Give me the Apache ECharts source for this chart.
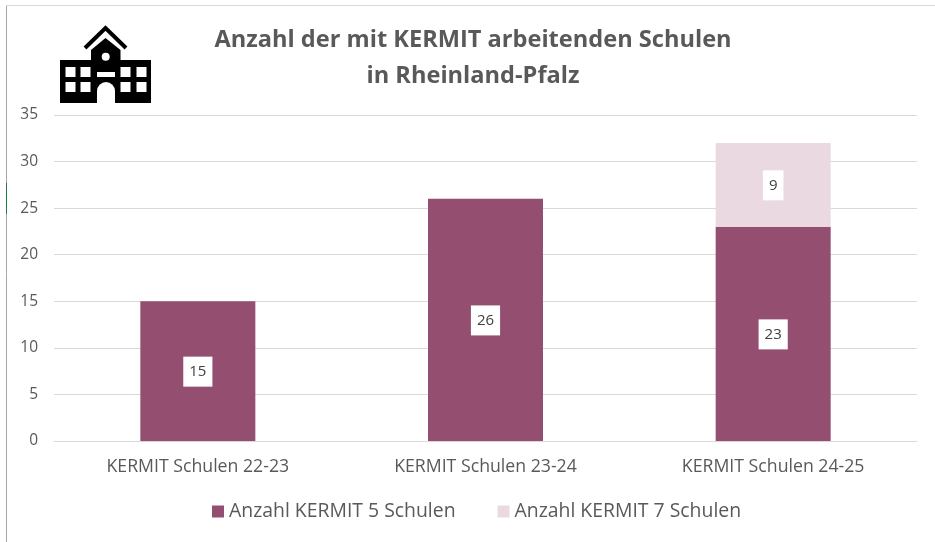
<!DOCTYPE html>
<html><head><meta charset="utf-8">
<style>html,body{margin:0;padding:0;background:#fff}#c{width:935px;height:542px}</style>
<script src="https://cdn.jsdelivr.net/npm/echarts@6/dist/echarts.min.js"></script>
</head><body><div id="c"></div>
<script>
const categories = ['KERMIT Schulen 22-23','KERMIT Schulen 23-24','KERMIT Schulen 24-25'];
const kermit5 = [15,26,23];
const kermit7 = [null,null,9];
const FONT = '"Open Sans", sans-serif';
const black = {fill:'#000'}, white = {fill:'#fff'};
const rect = (x,y,w,h,style) => ({type:'rect',shape:{x,y,width:w,height:h},style,silent:true});
const windows = [[65.5,67],[80.5,67],[120.5,67],[136.5,67],[65.5,82],[80.5,82],[120.5,82],[136.5,82]];
const label = {show:true,position:'inside',backgroundColor:'#fff',color:'#404040',fontFamily:FONT,fontSize:15,padding:[8,6,7,6],offset:[0,0.5]};
const chart = echarts.init(document.getElementById('c'),null,{renderer:'canvas'});
chart.setOption({
  animation:false,
  backgroundColor:'#fff',
  title:{text:'Anzahl der mit KERMIT arbeitenden Schulen\nin Rheinland-Pfalz',left:468,top:17,textAlign:'center',
    textStyle:{fontFamily:FONT,fontSize:23.6,fontWeight:'bold',color:'#595959',lineHeight:36}},
  legend:{bottom:16,left:207,itemWidth:12,itemHeight:12,itemGap:42,icon:'rect',
    textStyle:{fontFamily:FONT,fontSize:19.4,color:'#595959',padding:[0,0,0,0]}},
  grid:{left:54,right:18,top:115,bottom:101},
  xAxis:{type:'category',data:categories,axisLine:{lineStyle:{color:'#d9d9d9'}},axisTick:{show:false},
    axisLabel:{fontFamily:FONT,fontSize:17.7,color:'#595959',margin:17}},
  yAxis:{type:'value',min:0,max:35,interval:5,axisLine:{show:false},axisTick:{show:false},
    splitLine:{lineStyle:{color:'#d9d9d9'}},axisLabel:{fontFamily:FONT,fontSize:15.5,color:'#595959',margin:16,padding:[4,0,0,0]}},
  series:[
    {name:'Anzahl KERMIT 5 Schulen',type:'bar',stack:'a',barWidth:115,data:kermit5,itemStyle:{color:'#944E70'},label},
    {name:'Anzahl KERMIT 7 Schulen',type:'bar',stack:'a',barWidth:115,data:kermit7,itemStyle:{color:'#EBD9E2'},label}
  ],
  graphic:[
    {type:'line',shape:{x1:6.5,y1:5,x2:6.5,y2:542},style:{stroke:'#a6a6a6',lineWidth:1},silent:true},
    {type:'line',shape:{x1:6,y1:5.5,x2:935,y2:5.5},style:{stroke:'#d9d9d9',lineWidth:1},silent:true},
    {type:'line',shape:{x1:6.5,y1:183,x2:6.5,y2:214},style:{stroke:'#1e7b45',lineWidth:1},silent:true},
    {type:'group',silent:true,children:[
      rect(60,60,91,43,black),
      {type:'polygon',shape:{points:[[91,62],[91,50],[105.5,38],[120.5,50],[120.5,62]]},style:black,silent:true},
      {type:'polyline',shape:{points:[[85,48],[105.5,28],[126,48]]},style:{stroke:'#000',lineWidth:4,fill:null},silent:true},
      {type:'circle',shape:{cx:105.7,cy:56.7,r:4},style:white,silent:true},
      ...windows.map(([x,y]) => rect(x,y,10,10,white)),
      rect(97,72,18,5,white),
      {type:'circle',shape:{cx:106,cy:91,r:9},style:white,silent:true},
      rect(97,91,18,12,white)
    ]}
  ]
});
</script></body></html>
